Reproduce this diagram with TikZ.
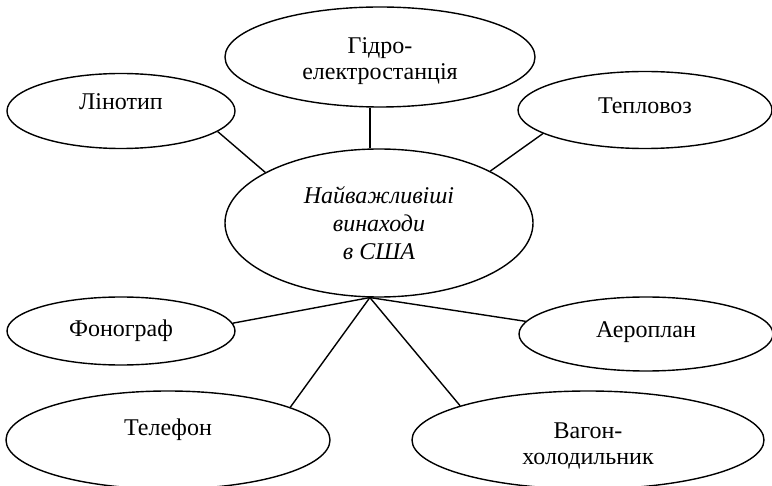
\documentclass[tikz,border=0pt]{standalone}
\usepackage{fontspec}
\setmainfont{Liberation Serif}
\usetikzlibrary{shapes.geometric}

\begin{document}
\begin{tikzpicture}[
  x=1pt, y=-1pt,
  font=\fontsize{24}{26}\selectfont,
  idea/.style={draw, ellipse, line width=1.4pt, inner sep=0pt, align=center},
  link/.style={line width=1.4pt}
]
\clip (0,0) rectangle (772,486);
\fill[white] (0,0) rectangle (772,486);

% central ellipse
\node[idea, minimum width=308pt, minimum height=148pt, font=\fontsize{24}{28}\selectfont\itshape] (usa) at (379,223) {Найважливіші\\винаходи\\в США};

% inventions
\node[idea, minimum width=310pt, minimum height=100pt, text height=46pt, text depth=0pt] (hydro) at (380,57) {Гідро-\\електростанція};
\node[idea, minimum width=228pt, minimum height=75pt, text height=0pt, text depth=2pt] (lino) at (121,111) {Лінотип};
\node[idea, minimum width=254pt, minimum height=77pt, text height=7pt, text depth=0pt] (teplo) at (645,110) {Тепловоз};
\node[idea, minimum width=228pt, minimum height=68pt, text height=12pt, text depth=0pt] (fono) at (121,331) {Фонограф};
\node[idea, minimum width=254pt, minimum height=74pt, text height=8pt, text depth=0pt] (aero) at (646,334) {Аероплан};
\node[idea, minimum width=324pt, minimum height=98pt, text height=0pt, text depth=8pt] (tele) at (168,440) {Телефон};
\node[idea, minimum width=352pt, minimum height=98pt, text height=50pt, text depth=0pt] (vagon) at (588,440) {Вагон-\\холодильник};

\draw[link] (usa.97) -- (usa.97 |- hydro.south);
\draw[link] (lino.348) -- (usa.156);
\draw[link] (teplo.193) -- (usa.25);
\draw[link] (usa.263) -- (fono.4);
\draw[link] (usa.263) -- (aero.174);
\draw[link] (usa.263) -- (tele.15);
\draw[link] (usa.263) -- (vagon.165);
\end{tikzpicture}
\end{document}
